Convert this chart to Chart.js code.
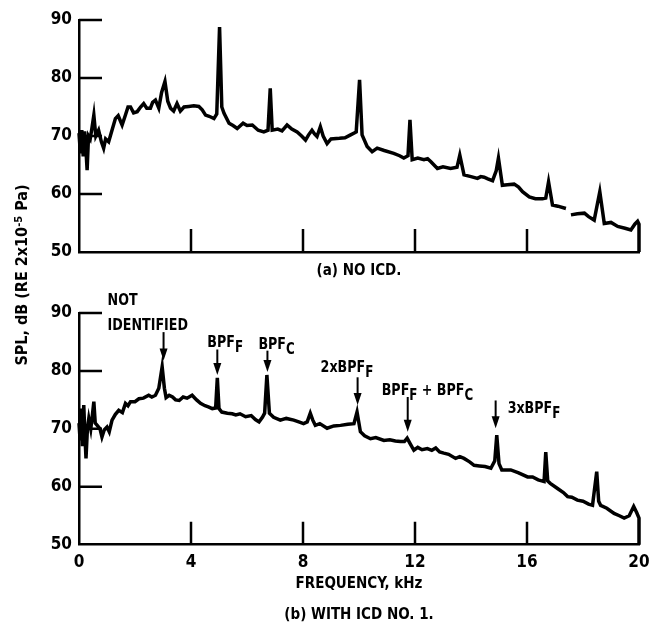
<!DOCTYPE html>
<html>
<head>
<meta charset="utf-8">
<title>SPL spectra - ICD comparison</title>
<script src="https://cdn.jsdelivr.net/npm/chart.js@4"></script>
<style>
  body { margin: 0; background: #fff; }
  #wrap { position: relative; width: 650px; height: 634px; font-family: "Liberation Sans Narrow", "DejaVu Sans Condensed", "Arial Narrow", sans-serif; }
  #wrap canvas { position: absolute; left: 0; }
  #ylab {
    position: absolute; left: -98px; top: 265px; width: 240px; height: 20px;
    line-height: 20px; text-align: center; font-size: 16px; font-weight: bold;
    transform: rotate(-90deg); white-space: nowrap;
  }
  #ylab sup { font-size: 11px; vertical-align: 5px; line-height: 0; }
</style>
</head>
<body>
<div id="wrap">
  <canvas id="chartA" width="650" height="284" style="top:0"></canvas>
  <canvas id="chartB" width="650" height="350" style="top:284px"></canvas>
  <div id="ylab">SPL, dB (RE 2x10<sup>-5</sup> Pa)</div>
</div>
<script>
// axis ticks
const xTicks = [0, 4, 8, 12, 16, 20];
const yTicks = [50, 60, 70, 80, 90];

// (a) no ICD: frequency (kHz) and SPL (dB); null = pen lift
const freqA = [0, 0.05, 0.1, 0.15, 0.2, 0.25, 0.29, 0.34, 0.4, 0.45, 0.53, 0.6, 0.7, 0.8, 0.88, 0.95,
  1.06, 1.15, 1.3, 1.4, 1.54, 1.65, 1.75, 1.84, 1.95, 2.08, 2.2, 2.31, 2.42, 2.55, 2.63, 2.73, 2.85, 2.95,
  3.07, 3.17, 3.27, 3.38, 3.5, 3.62, 3.75, 3.92, 4.1, 4.28, 4.4, 4.52, 4.65, 4.82, 4.92, 5.02, 5.1, 5.18,
  5.36, 5.5, 5.65, 5.86, 6.0, 6.19, 6.4, 6.6, 6.75, 6.83, 6.9, 7.1, 7.25, 7.43, 7.6, 7.79, 7.95, 8.09,
  8.2, 8.32, 8.42, 8.5, 8.62, 8.72, 8.86, 9.0, 9.3, 9.5, 9.7, 9.9, 10.02, 10.11, 10.29, 10.47, 10.65,
  10.9, 11.24, 11.45, 11.6, 11.75, 11.82, 11.9, 12.1, 12.32, 12.45, 12.56, 12.8, 13.0, 13.27, 13.5, 13.6,
  13.75, 14.0, 14.23, 14.35, 14.47, 14.6, 14.77, 14.9, 14.98, 15.12, 15.3, 15.54, 15.7, 15.84, 16.08,
  16.3, 16.55, 16.67, 16.77, 16.91, 17.1, 17.39, 17.45, 17.57, 17.8, 18.05, 18.2, 18.4, 18.6, 18.76,
  19.0, 19.24, 19.5, 19.71, 19.85, 19.95, 20.0, 20.0];
const splA = [70.5, 67, 71, 66.5, 70.8, 67.5, 64.1, 70, 69.5, 71, 73.6, 70, 71, 69, 67.9, 69.5,
  69, 70.5, 73, 73.5, 71.9, 73.5, 75, 75, 74, 74.2, 75, 75.6, 74.8, 74.8, 75.8, 76.2, 74.8, 77.5,
  79.4, 76, 74.8, 74.3, 75.6, 74.3, 75, 75.1, 75.2, 75.1, 74.5, 73.6, 73.4, 73, 73.8, 88.8, 75, 73.9,
  72.2, 71.8, 71.3, 72.2, 71.8, 71.9, 71, 70.7, 71, 78.2, 71, 71.2, 70.9, 71.9, 71.2, 70.7, 70, 69.3,
  70.2, 71, 70.3, 69.9, 71.6, 70, 68.7, 69.5, 69.6, 69.7, 70.2, 70.7, 79.7, 70.2, 68.2, 67.3, 67.9,
  67.5, 67.0, 66.6, 66.2, 66.6, 72.8, 65.9, 66.2, 65.9, 66.1, 65.6, 64.4, 64.7, 64.4, 64.6, 66.7,
  63.3, 63, 62.7, 63, 62.9, 62.6, 62.3, 64, 66.2, 61.5, 61.6, 61.7, 61.2, 60.4, 59.5,
  59.2, 59.2, 59.3, 62.1, 58.1, 57.9, 57.5, null, 56.4, 56.6, 56.7, 56.1, 55.5, 60.4, 54.9,
  55.1, 54.4, 54.1, 53.8, 54.8, 55.3, 54.8, 50];

// (b) with ICD no. 1
const freqB = [0, 0.04, 0.08, 0.12, 0.17, 0.21, 0.25, 0.3, 0.35, 0.42, 0.47, 0.53, 0.58, 0.65, 0.75, 0.82,
  0.9, 1.0, 1.08, 1.18, 1.3, 1.42, 1.55, 1.66, 1.75, 1.84, 2.0, 2.14, 2.3, 2.49, 2.6, 2.73, 2.85, 2.97,
  3.05, 3.11, 3.22, 3.34, 3.45, 3.58, 3.72, 3.86, 4.04, 4.2, 4.34, 4.5, 4.62, 4.76, 4.88, 4.94, 5.0,
  5.1, 5.3, 5.47, 5.6, 5.75, 5.95, 6.15, 6.3, 6.43, 6.55, 6.63, 6.71, 6.8, 6.95, 7.19, 7.4, 7.67, 7.85,
  8.02, 8.15, 8.26, 8.35, 8.44, 8.6, 8.86, 9.1, 9.34, 9.6, 9.82, 9.93, 10.05, 10.2, 10.41, 10.6, 10.89,
  11.1, 11.3, 11.48, 11.62, 11.72, 11.82, 11.96, 12.1, 12.25, 12.44, 12.6, 12.74, 12.88, 13.03, 13.2,
  13.45, 13.6, 13.75, 13.95, 14.11, 14.3, 14.5, 14.71, 14.85, 14.92, 15.0, 15.1, 15.42, 15.7, 16.02,
  16.2, 16.4, 16.61, 16.67, 16.74, 16.83, 17.09, 17.3, 17.45, 17.6, 17.8, 18.0, 18.2, 18.34, 18.49,
  18.56, 18.63, 18.85, 19.11, 19.3, 19.47, 19.65, 19.81, 19.92, 20.0, 20.0];
const splB = [71, 68, 73.5, 67, 74.1, 69, 64.9, 70, 71.8, 70, 72, 74.7, 71, 70.6, 70, 68.6,
  69.8, 70.3, 69.5, 71.5, 72.5, 73.2, 72.8, 74.4, 74, 74.7, 74.7, 75.2, 75.3, 75.8, 75.5, 75.8, 77, 80.7,
  77, 75.4, 75.8, 75.5, 75, 74.9, 75.5, 75.3, 75.8, 75, 74.4, 74, 73.8, 73.5, 73.6, 78.8, 73.5,
  72.9, 72.7, 72.6, 72.4, 72.6, 72.1, 72.3, 71.6, 71.2, 72.0, 72.7, 79.3, 72.7, 72, 71.5, 71.8, 71.5, 71.2,
  70.9, 71.2, 72.7, 71.5, 70.6, 70.9, 70.1, 70.5, 70.6, 70.8, 70.9, 72.9, 69.5, 68.8, 68.3, 68.5, 68.0,
  68.1, 67.9, 67.8, 67.8, 68.4, 67.5, 66.3, 66.8, 66.4, 66.6, 66.3, 66.7, 66.0, 65.8, 65.6,
  64.9, 65.2, 64.9, 64.3, 63.7, 63.6, 63.5, 63.2, 64.5, 68.9, 64, 62.9, 62.9, 62.4, 61.7,
  61.7, 61.2, 60.9, 66.0, 61, 60.6, 59.7, 59.0, 58.3, 58.2, 57.7, 57.5, 57.0, 56.8, 62.6,
  57.5, 56.8, 56.3, 55.4, 55.0, 54.6, 55.0, 56.6, 55.5, 54.6, 50];

// tone callouts on panel (b): arrow at frequency, from top dB down to tip dB
const noteFreq = [3.02, 4.94, 6.73, 9.95, 11.74, 14.88];
const noteTop = [86.7, 83.7, 83.5, 78.9, 75.5, 74.9];
const noteTip = [81.8, 79.3, 79.8, 74.1, 69.5, 70.1];
const noteText = ['NOT\nIDENTIFIED', 'BPF_F', 'BPF_C', '2xBPF_F', 'BPF_F + BPF_C', '3xBPF_F'];
// label placement relative to arrow top (px): left edge, baseline
const noteDx = [-56, -10, -9, -37, -26, 12];
const noteDy = [-2, -2, -2, -5, -2, 13];

const FONT = '"Liberation Sans Narrow", "DejaVu Sans Condensed", "Arial Narrow", sans-serif';
Chart.defaults.font.family = FONT;
Chart.defaults.font.weight = 'bold';
Chart.defaults.color = '#000';

function points(fx, fy) {
  return fx.map((f, i) => ({ x: f, y: fy[i] }));
}

// short tick marks drawn inward from the axes
const innerTicks = {
  id: 'innerTicks',
  afterDraw(chart) {
    const { ctx, chartArea, scales: { x, y } } = chart;
    ctx.save();
    ctx.strokeStyle = '#000';
    ctx.lineWidth = 2.5;
    ctx.beginPath();
    yTicks.slice(1).forEach(v => {
      const py = y.getPixelForValue(v);
      ctx.moveTo(chartArea.left, py);
      ctx.lineTo(chartArea.left + 23, py);
    });
    xTicks.slice(1, -1).forEach(v => {
      const px = x.getPixelForValue(v);
      ctx.moveTo(px, chartArea.bottom);
      ctx.lineTo(px, chartArea.bottom - 23);
    });
    ctx.stroke();
    ctx.restore();
  }
};

// text with "_X" written as a subscript letter, squeezed a little sideways
function drawRich(ctx, text, x, y) {
  const squeeze = 0.88;
  ctx.save();
  ctx.translate(x, y);
  ctx.scale(squeeze, 1);
  let cx = 0;
  text.split(/(_\w)/).forEach(p => {
    if (!p) return;
    if (p[0] === '_') {
      ctx.font = 'bold 15px ' + FONT;
      ctx.fillText(p[1], cx, 5);
      cx += ctx.measureText(p[1]).width;
    } else {
      ctx.font = 'bold 16px ' + FONT;
      ctx.fillText(p, cx, 0);
      cx += ctx.measureText(p).width;
    }
  });
  ctx.restore();
}

const callouts = {
  id: 'callouts',
  afterDraw(chart) {
    const { ctx, scales: { x, y } } = chart;
    ctx.save();
    ctx.fillStyle = '#000';
    ctx.strokeStyle = '#000';
    ctx.textBaseline = 'alphabetic';
    ctx.textAlign = 'left';
    noteFreq.forEach((f, i) => {
      const px = x.getPixelForValue(f);
      const top = y.getPixelForValue(noteTop[i]);
      const tip = y.getPixelForValue(noteTip[i]);
      ctx.lineWidth = 2;
      ctx.beginPath();
      ctx.moveTo(px, top);
      ctx.lineTo(px, tip - 10);
      ctx.stroke();
      ctx.beginPath();
      ctx.moveTo(px - 4, tip - 12);
      ctx.lineTo(px + 4, tip - 12);
      ctx.lineTo(px, tip);
      ctx.closePath();
      ctx.fill();
      const lines = noteText[i].split('\n');
      lines.forEach((ln, k) => {
        drawRich(ctx, ln, px + noteDx[i], top + noteDy[i] - (lines.length - 1 - k) * 25);
      });
    });
    ctx.restore();
  }
};

function panel(id, fx, fy, opts) {
  return new Chart(document.getElementById(id), {
    type: 'scatter',
    data: {
      datasets: [{
        data: points(fx, fy),
        showLine: true,
        borderColor: '#000',
        borderWidth: 3.5,
        pointRadius: 0,
        tension: 0,
        spanGaps: false,
        clip: false
      }]
    },
    options: {
      responsive: false,
      animation: false,
      layout: { padding: { left: 0, right: 11, top: opts.padTop, bottom: 0 } },
      plugins: { legend: { display: false }, tooltip: { enabled: false } },
      scales: {
        x: {
          type: 'linear', min: 0, max: 20,
          afterBuildTicks: s => { s.ticks = xTicks.map(v => ({ value: v })); },
          ticks: { display: opts.xLabels, padding: 8, font: { size: 17 } },
          grid: { display: false, drawTicks: false },
          border: { display: true, color: '#000', width: 2.5 },
          title: { display: true, text: opts.title, font: { size: 15, lineHeight: 2.07 }, padding: { top: 0, bottom: opts.titlePad } },
          afterFit: s => {
            s.height = opts.axisHeight;
            // end labels may hang past the plot edges
            s.paddingLeft = 0;
            s.paddingRight = 0;
          }
        },
        y: {
          min: 50, max: 90,
          afterBuildTicks: s => { s.ticks = yTicks.map(v => ({ value: v })); },
          ticks: { padding: 7, font: { size: 17 } },
          grid: { display: false, drawTicks: false },
          border: { display: true, color: '#000', width: 2.5 },
          afterFit: s => { s.width = 79; }
        }
      }
    },
    plugins: opts.plugins
  });
}

panel('chartA', freqA, splA, {
  padTop: 20, axisHeight: 32, xLabels: false, title: '(a) NO ICD.', titlePad: -3,
  plugins: [innerTicks]
});
panel('chartB', freqB, splB, {
  padTop: 29, axisHeight: 89.3, xLabels: true, title: ['FREQUENCY, kHz', '(b) WITH ICD NO. 1.'], titlePad: 3.5,
  plugins: [innerTicks, callouts]
});
</script>
</body>
</html>
